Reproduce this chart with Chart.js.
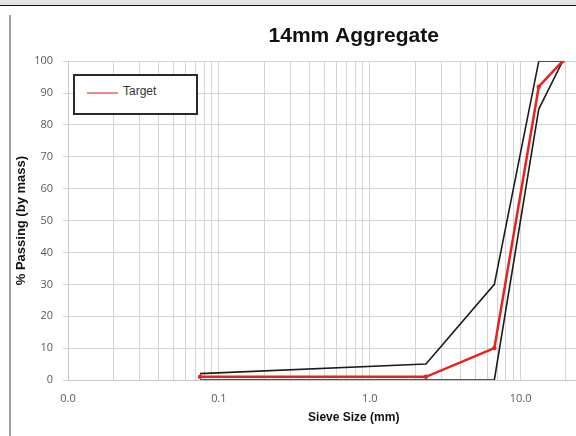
<!DOCTYPE html>
<html>
<head>
<meta charset="utf-8">
<script src="https://cdn.jsdelivr.net/npm/chart.js@4"></script>
<style>
  html, body { margin: 0; padding: 0; overflow: hidden; background: #fff; }
  #wrap { position: relative; width: 576px; height: 436px; overflow: hidden; }
  #topband { position: absolute; left: 0; top: 0; width: 576px; height: 5px; background: #e4e4e4; border-bottom: 1.5px solid #111; }
  #leftline { position: absolute; left: 9px; top: 15px; width: 2px; height: 421px; background: #a0a0a0; }
  #chart { position: absolute; left: 0; top: 0; }
  #legend { position: absolute; left: 73px; top: 74px; width: 121px; height: 37px; border: 2px solid #2a2a2a; background: #fff;
            font: 12px "Liberation Sans", Arial, sans-serif; color: #333; }
  #legend .swatch { position: absolute; left: 12px; top: 16px; width: 31px; height: 1.5px; background: #f08a8a; }
  #legend .label { position: absolute; left: 48px; top: 8px; }
</style>
</head>
<body>
<div id="wrap">
  <div id="topband"></div>
  <canvas id="chart" width="650" height="436"></canvas>
  <div id="leftline"></div>
  <div id="legend"><span class="swatch"></span><span class="label">Target</span></div>
</div>
<script>
// sieve sizes in mm and % passing
const sieveSizes = [0.075, 2.36, 6.7, 13.2, 19];
const targetPassing = [1, 1, 10, 92, 100];
const upperLimit = [2, 5, 30, 100, 100];
const lowerLimit = [0, 0, 0, 85, 100];

// log grid: 1..9 per decade
const gridValues = [
  0.01, 0.02, 0.03, 0.04, 0.05, 0.06, 0.07, 0.08, 0.09,
  0.1, 0.2, 0.3, 0.4, 0.5, 0.6, 0.7, 0.8, 0.9,
  1, 2, 3, 4, 5, 6, 7, 8, 9,
  10, 20, 30, 40, 50, 60
];
const labelledTicks = [0.01, 0.1, 1, 10];

function pts(ys) {
  return sieveSizes.map((x, i) => ({ x: x, y: ys[i] }));
}

const tickFont = { family: '"Open Sans", sans-serif', size: 11 };
const titleFont = { family: '"Liberation Sans", Arial, sans-serif', size: 12, weight: 'bold' };

new Chart(document.getElementById('chart').getContext('2d'), {
  type: 'line',
  data: {
    datasets: [
      {
        label: 'Target',
        data: pts(targetPassing),
        borderColor: '#e8231f',
        backgroundColor: '#e8231f',
        borderWidth: 2.5,
        pointRadius: 2.2,
        pointBorderWidth: 0,
        order: 0
      },
      {
        label: 'Upper',
        data: pts(upperLimit),
        borderColor: '#1c1c1c',
        borderWidth: 1.6,
        pointRadius: 0,
        order: 1
      },
      {
        label: 'Lower',
        data: pts(lowerLimit),
        borderColor: '#1c1c1c',
        borderWidth: 1.6,
        pointRadius: 0,
        order: 1
      }
    ]
  },
  options: {
    responsive: false,
    animation: false,
    layout: { padding: { left: 0, right: 0, top: 0, bottom: 0 } },
    plugins: {
      legend: { display: false },
      tooltip: { enabled: false },
      title: {
        display: true,
        text: '14mm Aggregate',
        fullSize: false,
        color: '#111',
        font: { family: '"Liberation Sans", Arial, sans-serif', size: 21, weight: 'bold' },
        padding: { top: 24, bottom: 12 }
      }
    },
    scales: {
      x: {
        type: 'logarithmic',
        min: 0.01,
        max: 61.4,
        afterFit: s => { s.height = 56; },
        afterBuildTicks: s => { s.ticks = gridValues.map(v => ({ value: v })); },
        grid: { color: '#d4d4d4', drawTicks: false },
        border: { color: '#c8c8c8' },
        ticks: {
          autoSkip: false,
          maxRotation: 0,
          padding: 12,
          color: '#595959',
          font: tickFont,
          callback: v => labelledTicks.some(t => Math.abs(t - v) < 1e-9) ? Number(v).toFixed(1) : ''
        },
        title: {
          display: true,
          text: 'Sieve Size (mm)',
          color: '#111',
          font: titleFont,
          padding: { top: 0, bottom: 11 }
        }
      },
      y: {
        min: 0,
        max: 100,
        afterFit: s => { s.width = 68; },
        grid: { color: '#d4d4d4', tickLength: 5 },
        border: { color: '#c8c8c8' },
        ticks: { stepSize: 10, padding: 10, color: '#595959', font: tickFont },
        title: {
          display: true,
          text: '% Passing (by mass)',
          color: '#111',
          font: { family: '"Liberation Sans", Arial, sans-serif', size: 13, weight: 'bold' },
          padding: { top: 14, bottom: 0 }
        }
      }
    }
  }
});
</script>
</body>
</html>
